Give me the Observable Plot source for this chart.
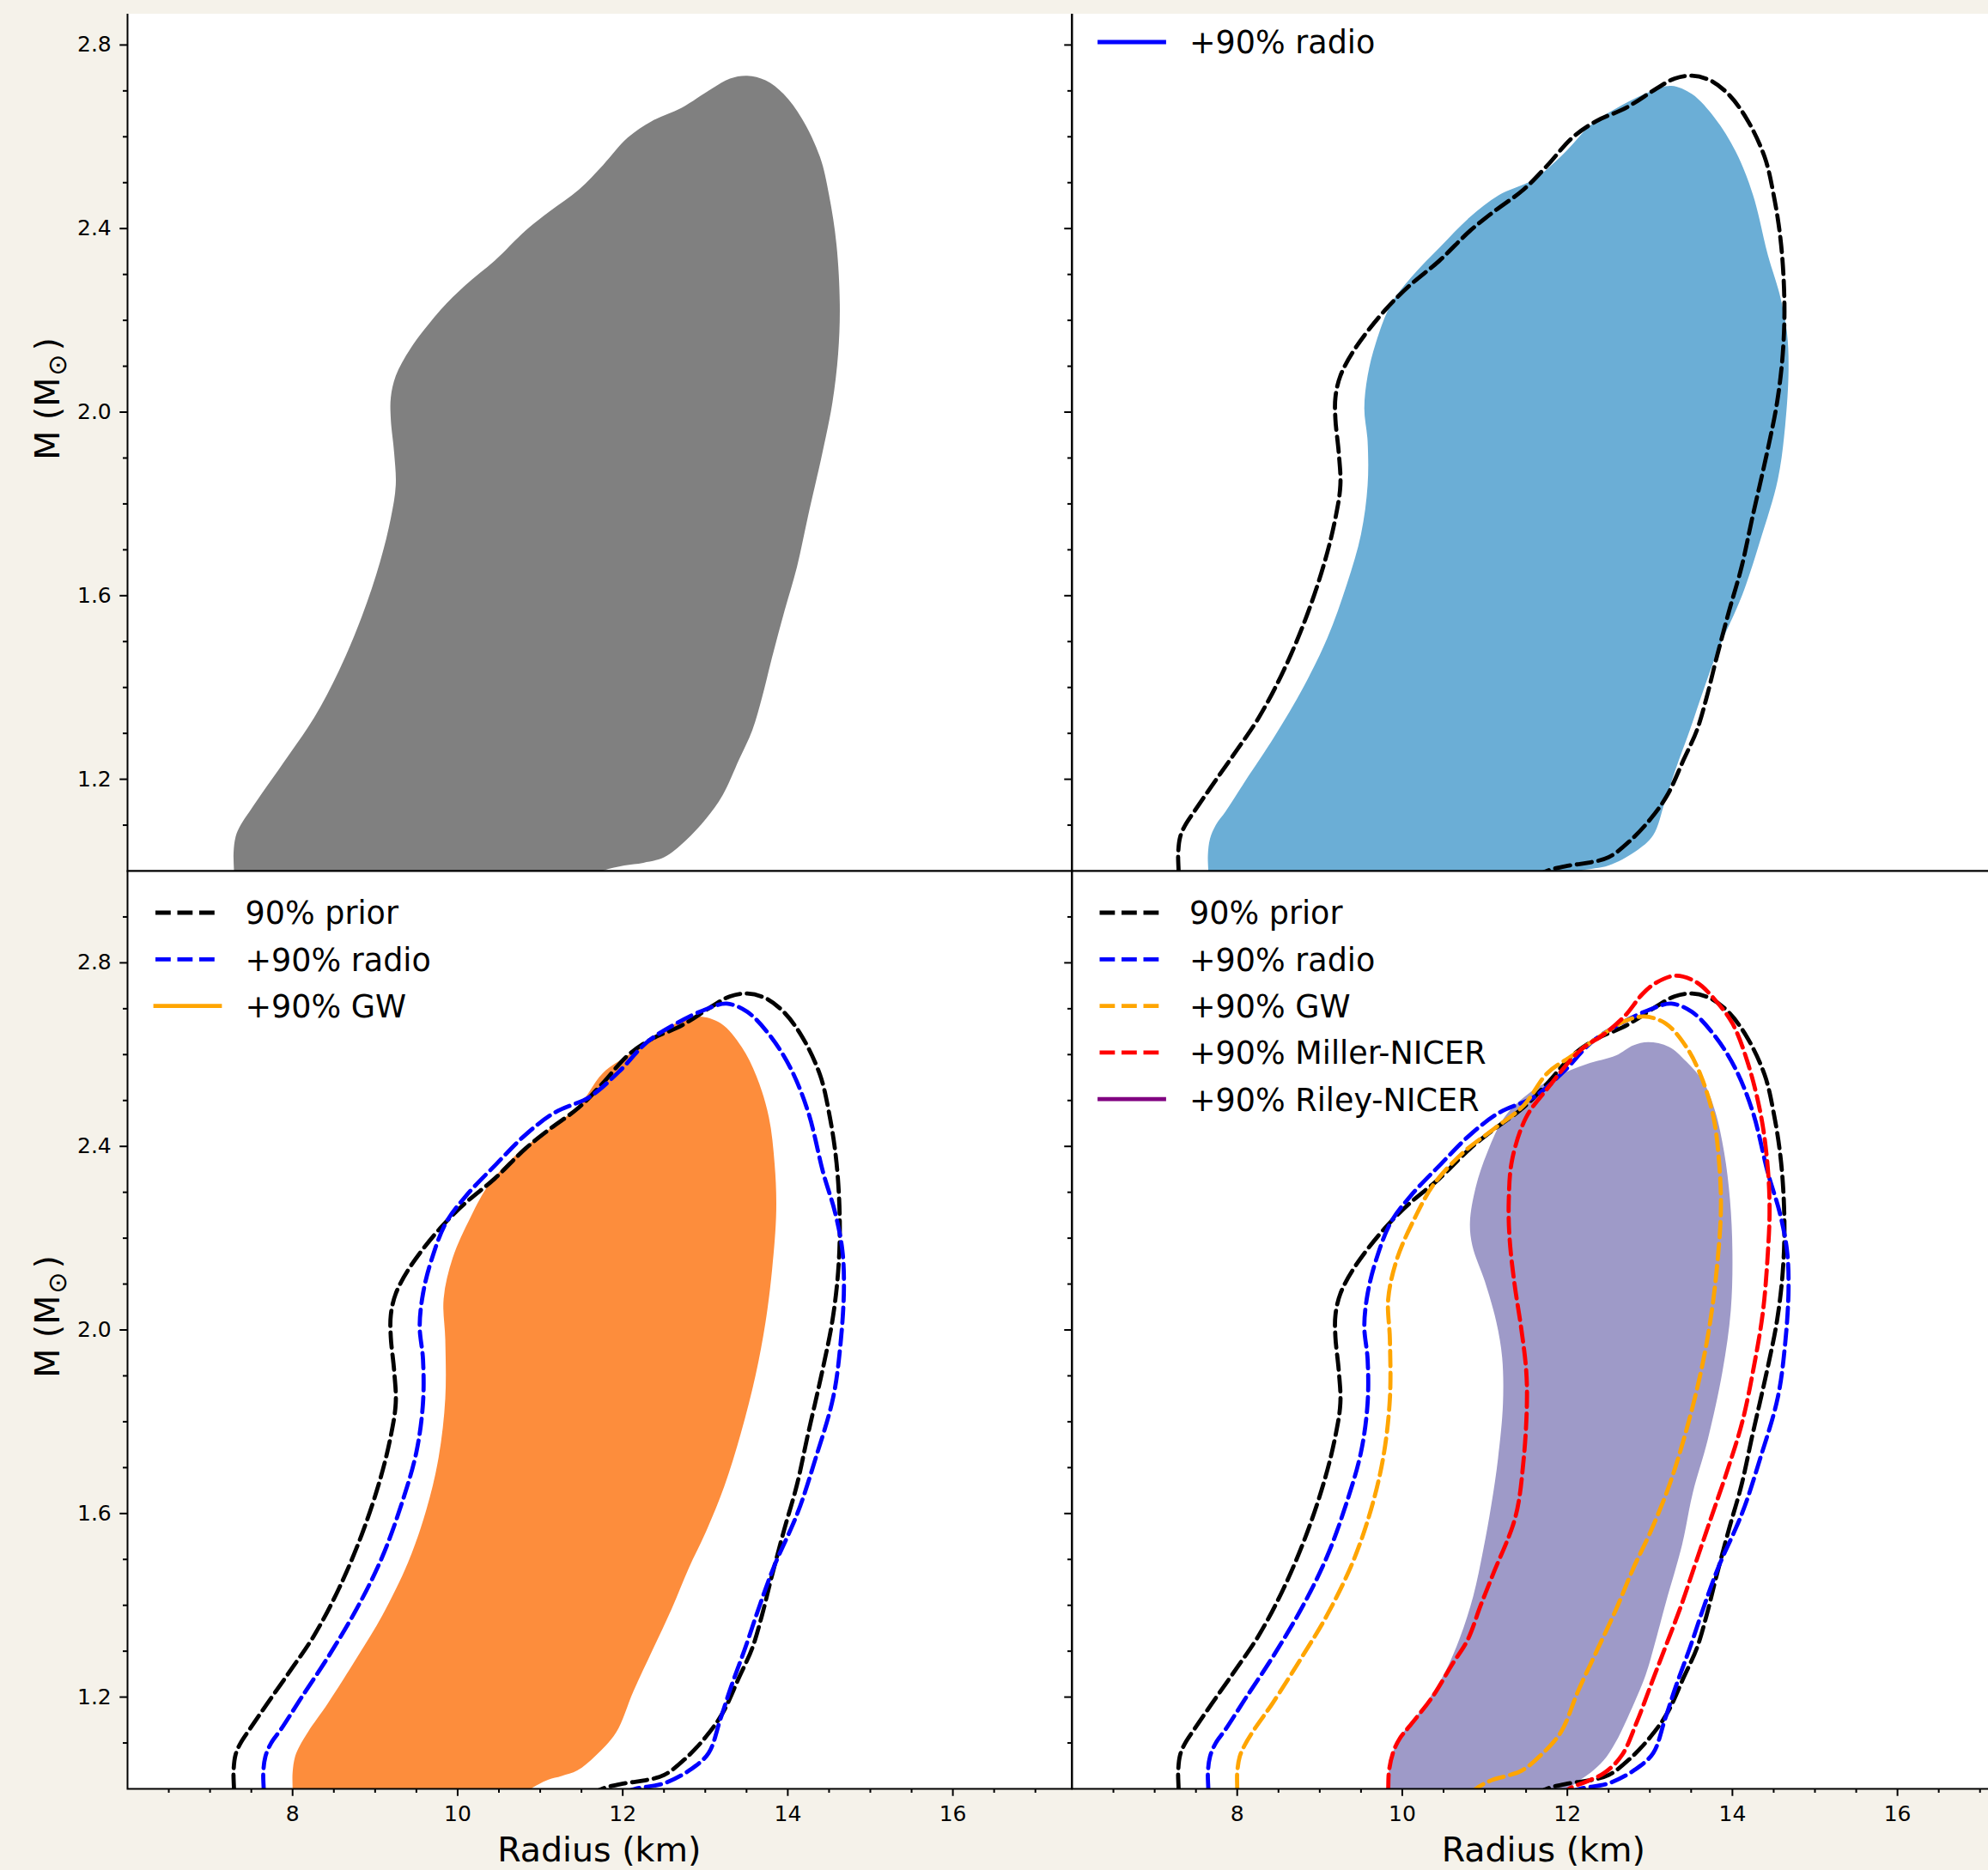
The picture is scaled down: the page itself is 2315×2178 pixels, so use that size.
<!DOCTYPE html>
<html>
<head>
<meta charset="utf-8">
<script src="https://cdn.jsdelivr.net/npm/d3@7"></script>
<script src="https://cdn.jsdelivr.net/npm/@observablehq/plot@0.6"></script>
<style>
  html, body { margin: 0; padding: 0; background: #f5f2ea; }
  #fig { position: relative; width: 2315px; height: 2178px; overflow: hidden; background: #f5f2ea; }
  #clip { position: absolute; left: 0; top: 16px; width: 2315px; height: 2162px; overflow: hidden; }
  #overlay { position: absolute; left: 0; top: 0; }
</style>
</head>
<body>
<div id="fig"><div id="clip"></div><svg id="overlay" width="2315" height="2178"></svg></div>
<script>
// ---------------- data (Radius km, Mass Msun) ----------------
const xDomain = [6, 17.44];
const yDomain = [1.0, 3.0];
const xMajor = [8, 10, 12, 14, 16];
const xMinor = [6.5, 7, 7.5, 8.5, 9, 9.5, 10.5, 11, 11.5, 12.5, 13, 13.5, 14.5, 15, 15.5, 16.5, 17];
const yMajor = [1.2, 1.6, 2.0, 2.4, 2.8];
const yMinor = [1.1, 1.3, 1.4, 1.5, 1.7, 1.8, 1.9, 2.1, 2.2, 2.3, 2.5, 2.6, 2.7, 2.9];

// 90% prior contour
const priorR = [7.30, 7.29, 7.285, 7.31, 7.37, 7.48, 7.69, 7.97, 8.26, 8.56, 8.84, 9.06, 9.19, 9.25, 9.23, 9.19, 9.19, 9.25, 9.43, 9.79, 10.09, 10.45, 10.82, 11.11, 11.47, 11.76, 12.06, 12.35, 12.71, 13.08, 13.30, 13.51, 13.73, 13.95, 14.17, 14.39, 14.50, 14.59, 14.63, 14.61, 14.54, 14.42, 14.24, 14.11, 13.96, 13.80, 13.69, 13.57, 13.41, 13.21, 13.01, 12.76, 12.50, 12.25, 12.02, 11.75, 11.45];
const priorM = [0.95, 1.00, 1.04, 1.075, 1.10, 1.13, 1.185, 1.257, 1.334, 1.436, 1.555, 1.674, 1.769, 1.841, 1.912, 1.984, 2.032, 2.079, 2.139, 2.222, 2.276, 2.33, 2.395, 2.437, 2.485, 2.538, 2.598, 2.634, 2.663, 2.705, 2.727, 2.733, 2.723, 2.693, 2.64, 2.556, 2.473, 2.365, 2.234, 2.127, 2.02, 1.912, 1.769, 1.662, 1.567, 1.459, 1.38, 1.307, 1.243, 1.165, 1.114, 1.066, 1.03, 1.018, 1.012, 1.0, 0.97];

// +90% radio contour
const radioR = [7.66, 7.65, 7.645, 7.67, 7.74, 7.86, 8.10, 8.45, 8.80, 9.09, 9.33, 9.50, 9.58, 9.58, 9.54, 9.58, 9.68, 9.86, 10.11, 10.46, 10.82, 11.17, 11.60, 11.95, 12.30, 12.66, 13.01, 13.26, 13.51, 13.79, 14.04, 14.25, 14.43, 14.57, 14.66, 14.68, 14.64, 14.55, 14.34, 14.12, 13.83, 13.66, 13.48, 13.31, 13.18, 13.04, 12.82, 12.50, 12.15, 11.85];
const radioM = [0.95, 1.0, 1.035, 1.07, 1.10, 1.13, 1.197, 1.293, 1.40, 1.507, 1.626, 1.734, 1.841, 1.936, 2.008, 2.079, 2.151, 2.234, 2.294, 2.36, 2.425, 2.473, 2.508, 2.562, 2.628, 2.669, 2.699, 2.711, 2.693, 2.64, 2.568, 2.473, 2.342, 2.258, 2.175, 2.091, 1.972, 1.853, 1.722, 1.602, 1.483, 1.40, 1.305, 1.221, 1.15, 1.078, 1.042, 1.012, 1.0, 0.98];

// +90% GW contour
const gwR = [8.0, 8.0, 8.0, 8.03, 8.09, 8.19, 8.43, 8.79, 9.09, 9.40, 9.62, 9.77, 9.85, 9.85, 9.83, 9.94, 10.16, 10.38, 10.74, 11.11, 11.47, 11.76, 12.06, 12.42, 12.71, 12.93, 13.19, 13.44, 13.62, 13.77, 13.84, 13.86, 13.81, 13.73, 13.61, 13.43, 13.23, 13.0, 12.80, 12.59, 12.36, 12.13, 11.92, 11.67, 11.45, 11.26, 11.10, 10.98, 10.89, 10.75];
const gwM = [0.95, 1.0, 1.035, 1.07, 1.095, 1.125, 1.187, 1.289, 1.379, 1.494, 1.608, 1.723, 1.851, 1.979, 2.068, 2.157, 2.247, 2.317, 2.387, 2.438, 2.489, 2.56, 2.598, 2.643, 2.674, 2.683, 2.668, 2.617, 2.553, 2.464, 2.362, 2.26, 2.132, 2.017, 1.902, 1.774, 1.659, 1.557, 1.481, 1.391, 1.302, 1.213, 1.123, 1.072, 1.04, 1.028, 1.02, 1.01, 1.0, 0.97];

// +90% Miller-NICER contour
const millerR = [9.83, 9.83, 9.84, 9.89, 9.97, 10.08, 10.36, 10.60, 10.79, 10.95, 11.10, 11.37, 11.47, 11.51, 11.50, 11.44, 11.36, 11.30, 11.29, 11.33, 11.50, 11.74, 12.16, 12.45, 12.70, 12.91, 13.08, 13.32, 13.57, 13.80, 14.00, 14.19, 14.35, 14.43, 14.45, 14.43, 14.37, 14.26, 14.12, 13.95, 13.75, 13.55, 13.38, 13.19, 13.03, 12.84, 12.66, 12.45, 12.22, 12.02, 11.85];
const millerM = [0.95, 1.0, 1.04, 1.08, 1.11, 1.135, 1.199, 1.27, 1.324, 1.40, 1.468, 1.592, 1.717, 1.842, 1.915, 2.005, 2.10, 2.20, 2.28, 2.37, 2.463, 2.522, 2.61, 2.645, 2.685, 2.732, 2.757, 2.772, 2.757, 2.717, 2.668, 2.58, 2.463, 2.35, 2.26, 2.17, 2.04, 1.92, 1.80, 1.70, 1.595, 1.49, 1.40, 1.31, 1.235, 1.145, 1.073, 1.035, 1.015, 1.0, 0.97];

// +90% Riley-NICER contour
const rileyR = [9.83, 9.83, 9.84, 9.90, 10.00, 10.12, 10.30, 10.52, 10.70, 10.86, 10.98, 11.08, 11.16, 11.22, 11.21, 11.14, 11.00, 10.85, 10.82, 10.89, 11.03, 11.24, 11.53, 11.88, 12.23, 12.59, 12.80, 12.98, 13.23, 13.44, 13.65, 13.79, 13.90, 13.97, 14.00, 13.98, 13.88, 13.70, 13.52, 13.39, 13.20, 13.05, 12.95, 12.73, 12.58, 12.44, 12.28, 12.15, 12.02, 11.90];
const rileyM = [0.95, 1.0, 1.04, 1.085, 1.12, 1.145, 1.19, 1.255, 1.33, 1.42, 1.52, 1.62, 1.72, 1.84, 1.94, 2.017, 2.106, 2.183, 2.234, 2.311, 2.387, 2.464, 2.515, 2.553, 2.579, 2.598, 2.62, 2.627, 2.617, 2.585, 2.54, 2.477, 2.387, 2.285, 2.17, 2.042, 1.91, 1.76, 1.645, 1.532, 1.41, 1.31, 1.249, 1.155, 1.10, 1.062, 1.035, 1.019, 1.0, 0.97];

// legend entries per panel
const legendTRLabels = ["+90% radio"];
const legendBLLabels = ["90% prior", "+90% radio", "+90% GW"];
const legendBRLabels = ["90% prior", "+90% radio", "+90% GW", "+90% Miller-NICER", "+90% Riley-NICER"];

// ---------------- styling ----------------
const C = {
  priorFill: "#808080", radioFill: "#6baed6", gwFill: "#fd8d3c", rileyFill: "#9e9ac8",
  prior: "#000000", radio: "#0000ff", gw: "#ffa500", miller: "#ff0000", riley: "#800080"
};
const FW = 1099.5, FH = 1069;
const LW = 4.8, DASH = "17.8,7.7";
const ML = 110, MR = 4, MT = 4, MB = 70;
const FONT = "'DejaVu Sans', sans-serif";

const toPts = (R, M) => R.map((r, i) => ({R: r, M: M[i]}));
const prior = toPts(priorR, priorM);
const radio = toPts(radioR, radioM);
const gw = toPts(gwR, gwM);
const miller = toPts(millerR, millerM);
const riley = toPts(rileyR, rileyM);

const clip = document.getElementById("clip");

function contourFill(data, color) {
  return Plot.line(data, {x: "R", y: "M", curve: "catmull-rom", fill: color, stroke: "none", clip: true});
}
function contourLine(data, color) {
  return Plot.line(data, {x: "R", y: "M", curve: "catmull-rom", fill: "none", stroke: color,
    strokeWidth: LW, strokeDasharray: DASH, clip: true});
}

function panel({left, top, fill, lines, xAxis, yLabels}) {
  const marks = [Plot.frame({fill: "white", stroke: "none"})];
  if (fill) marks.push(contourFill(fill.data, fill.color));
  for (const l of lines) marks.push(contourLine(l.data, l.color));
  marks.push(Plot.frame({stroke: "black", strokeWidth: 2, fill: "none"}));
  marks.push(Plot.axisY({ticks: yMajor, tickSize: 8.75, tickPadding: 10,
    tickFormat: yLabels ? d3.format(".1f") : () => "", strokeWidth: 2, fontSize: 25, label: null}));
  marks.push(Plot.axisY({ticks: yMinor, tickSize: 5, tickFormat: () => "", strokeWidth: 2, label: null}));
  if (xAxis) {
    marks.push(Plot.axisX({ticks: xMajor, tickSize: 8.75, tickPadding: 11, tickFormat: d3.format("d"),
      strokeWidth: 2, fontSize: 25, label: null}));
    marks.push(Plot.axisX({ticks: xMinor, tickSize: 5, tickFormat: () => "", strokeWidth: 2, label: null}));
  }
  const xOpts = {domain: xDomain};
  if (!xAxis) xOpts.axis = null;
  const svg = Plot.plot({
    width: ML + FW + MR, height: MT + FH + MB,
    marginLeft: ML, marginRight: MR, marginTop: MT, marginBottom: MB,
    x: xOpts,
    y: {domain: yDomain},
    style: {background: "transparent", fontFamily: FONT, color: "black", overflow: "visible"},
    marks
  });
  svg.style.position = "absolute";
  svg.style.left = (left - ML) + "px";
  svg.style.top = (top - MT - 16) + "px";
  svg.style.maxWidth = "none";
  clip.appendChild(svg);
}

const LEFT = 148, RIGHT = 1247.5, TOP = -55, BOTTOM = 1014;

panel({left: LEFT, top: TOP, fill: {data: prior, color: C.priorFill}, lines: [], xAxis: false, yLabels: true});
panel({left: RIGHT, top: TOP, fill: {data: radio, color: C.radioFill},
  lines: [{data: prior, color: C.prior}], xAxis: false, yLabels: false});
panel({left: LEFT, top: BOTTOM, fill: {data: gw, color: C.gwFill},
  lines: [{data: prior, color: C.prior}, {data: radio, color: C.radio}], xAxis: true, yLabels: true});
panel({left: RIGHT, top: BOTTOM, fill: {data: riley, color: C.rileyFill},
  lines: [{data: prior, color: C.prior}, {data: radio, color: C.radio}, {data: gw, color: C.gw}, {data: miller, color: C.miller}],
  xAxis: true, yLabels: false});

// ---------------- overlay: legends and axis titles ----------------
const ov = d3.select("#overlay");
const LEG_FS = 36.5;
function legend(x0, y0, labels, colors, dashed) {
  labels.forEach((lab, i) => {
    const y = y0 + i * 54.3;
    ov.append("line")
      .attr("x1", x0 + 33).attr("x2", x0 + 108).attr("y1", y).attr("y2", y)
      .attr("stroke", colors[i]).attr("stroke-width", LW)
      .attr("stroke-dasharray", dashed[i] ? DASH : null)
      .attr("stroke-linecap", dashed[i] ? "butt" : "square");
    ov.append("text")
      .attr("x", x0 + 137.5).attr("y", y + 0.729 * LEG_FS / 2)
      .attr("font-family", FONT).attr("font-size", LEG_FS).attr("fill", "black")
      .text(lab);
  });
}
legend(RIGHT, 49, legendTRLabels, [C.radio], [false]);
legend(LEFT, 1063, legendBLLabels, [C.prior, C.radio, C.gw], [true, true, false]);
legend(RIGHT, 1063, legendBRLabels, [C.prior, C.radio, C.gw, C.miller, C.riley], [true, true, true, true, false]);

const AX_FS = 39.5;
function xTitle(cx) {
  ov.append("text").attr("x", cx).attr("y", 2168).attr("text-anchor", "middle")
    .attr("font-family", FONT).attr("font-size", AX_FS).attr("fill", "black").text("Radius (km)");
}
xTitle(LEFT + FW / 2);
xTitle(RIGHT + FW / 2);

function yTitle(cy) {
  const t = ov.append("text").attr("transform", `translate(69,${cy}) rotate(-90)`)
    .attr("text-anchor", "middle").attr("font-family", FONT).attr("font-size", AX_FS).attr("fill", "black");
  t.append("tspan").text("M (M");
  t.append("tspan").attr("font-size", 30).attr("dx", 2).attr("dy", 8).text("\u2299");
  t.append("tspan").attr("dx", 4).attr("dy", -8).text(")");
}
yTitle(TOP + FH / 2 - 15);
yTitle(BOTTOM + FH / 2 - 15);
</script>
</body>
</html>
